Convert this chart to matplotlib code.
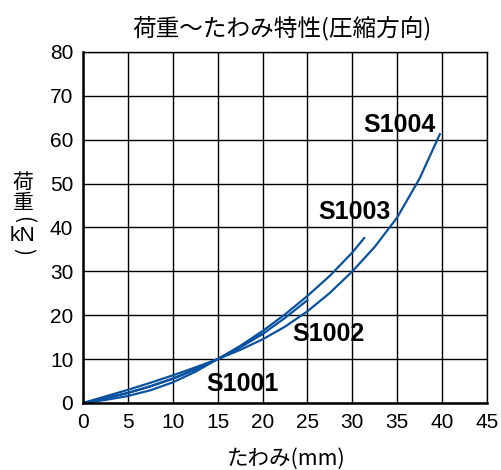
import matplotlib
matplotlib.use("Agg")
import matplotlib.pyplot as plt

# load-deflection data (mm, kN)
s1001_x = [0, 2.5, 5, 7.5, 10, 12.5, 15, 17.5, 20]
s1001_y = [0, 1.1, 2.3, 3.8, 5.6, 7.7, 10.0, 12.7, 15.8]

s1002_x = [0, 2.5, 5, 7.5, 10, 12.5, 15, 17.5, 20, 22.5, 25.1]
s1002_y = [0, 1.1, 2.3, 3.8, 5.5, 7.6, 10.0, 12.7, 15.7, 19.4, 23.6]

s1003_x = [0, 2.5, 5, 7.5, 10, 12.5, 15, 17.5, 20, 22.5, 25, 27.5, 30, 31.4]
s1003_y = [0, 0.7, 1.6, 2.9, 4.7, 7.1, 10.0, 13.0, 16.4, 20.2, 24.4, 29.0, 34.3, 37.8]

s1004_x = [0, 2.5, 5, 7.5, 10, 12.5, 15, 17.5, 20, 22.5, 25, 27.5, 30, 32.5, 35, 37.5, 39.8]
s1004_y = [0, 1.5, 3.0, 4.6, 6.3, 8.1, 10.0, 12.1, 14.5, 17.4, 20.9, 25.1, 30.0, 35.6, 42.3, 51.2, 61.5]

series = [
    ("S1001", s1001_x, s1001_y, (17.8, 4.3)),
    ("S1002", s1002_x, s1002_y, (27.3, 15.7)),
    ("S1003", s1003_x, s1003_y, (30.2, 43.5)),
    ("S1004", s1004_x, s1004_y, (35.2, 63.3)),
]

x_ticks = list(range(0, 46, 5))
y_ticks = list(range(0, 81, 10))

title = "荷重〜たわみ特性(圧縮方向)"
x_label = "たわみ(mm)"

jp = ["Noto Sans CJK JP", "DejaVu Sans"]
num_font = ["Liberation Sans Narrow", "Liberation Sans", "DejaVu Sans"]
line_color = "#0a52a0"

fig = plt.figure(figsize=(5.02, 4.70), dpi=100)
ax = fig.add_axes([83 / 502, 1 - 403 / 470, 404 / 502, 351 / 470])

for name, xs, ys, pos in series:
    ax.plot(xs, ys, color=line_color, lw=1.6, solid_capstyle="butt",
            solid_joinstyle="round")
    ax.text(pos[0], pos[1], name, ha="center", va="center", fontsize=18,
            fontweight="bold", family=["Liberation Sans", "DejaVu Sans"])

ax.set_xlim(0, 45)
ax.set_ylim(0, 80)
ax.set_xticks(x_ticks)
ax.set_yticks(y_ticks)
ax.grid(True, color="black", lw=1.0)
ax.set_axisbelow(True)
ax.tick_params(length=0, pad=7)
for lab in ax.get_xticklabels() + ax.get_yticklabels():
    lab.set_family(num_font)
    lab.set_fontsize(15)
for side in ["left", "bottom"]:
    ax.spines[side].set_linewidth(1.8)
for side in ["right", "top"]:
    ax.spines[side].set_linewidth(1.0)

fig.text(282 / 502, 1 - 28 / 470, title, ha="center", va="center",
         fontsize=17, family=jp)
fig.text(286 / 502, 1 - 459 / 470, x_label, ha="center", va="center",
         fontsize=15.5, family=jp)

# vertical y label: 荷 / 重 / (kN), brackets turned sideways so they read as arcs
lx = 23 / 502
fig.text(lx, 1 - 183 / 470, "荷", ha="center", va="center", fontsize=15, family=jp)
fig.text(lx, 1 - 203 / 470, "重", ha="center", va="center", fontsize=15, family=jp)
fig.text(lx, 1 - 220 / 470, "(", ha="center", va="center", fontsize=15,
         family=jp, rotation=-90)
fig.text(lx, 1 - 236 / 470, "kN", ha="center", va="center", fontsize=15,
         family=["Liberation Sans", "DejaVu Sans"])
fig.text(lx, 1 - 251 / 470, ")", ha="center", va="center", fontsize=15,
         family=jp, rotation=-90)

fig.savefig("out.png", dpi=100)
